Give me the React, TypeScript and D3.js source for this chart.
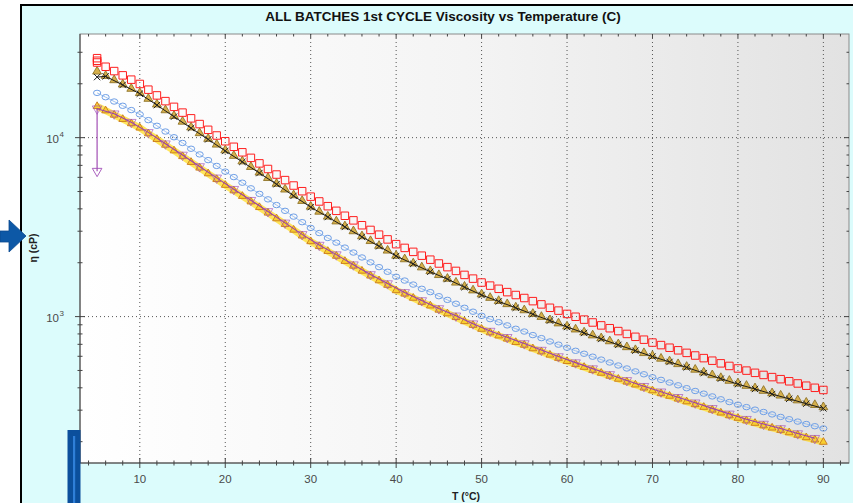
import React from "react";
import * as d3 from "d3";

// ---------- data ----------
const temps = [
  5, 6, 7, 8, 9, 10, 11, 12, 13, 14, 15, 16, 17, 18, 19, 20, 21, 22, 23, 24,
  25, 26, 27, 28, 29, 30, 31, 32, 33, 34, 35, 36, 37, 38, 39, 40, 41, 42, 43, 44,
  45, 46, 47, 48, 49, 50, 51, 52, 53, 54, 55, 56, 57, 58, 59, 60, 61, 62, 63, 64,
  65, 66, 67, 68, 69, 70, 71, 72, 73, 74, 75, 76, 77, 78, 79, 80, 81, 82, 83, 84,
  85, 86, 87, 88, 89, 90,
];

const redStartT = [5, 5];
const redStart = [27800, 26900];
const red = [
  26300, 24900, 23550, 22290, 21090, 19950, 18540, 17220, 16000, 14860,
  13800, 12820, 11910, 11060, 10280, 9550, 8890, 8280, 7710, 7180,
  6680, 6220, 5790, 5400, 5020, 4680, 4400, 4140, 3900, 3660,
  3450, 3240, 3050, 2870, 2700, 2540, 2420, 2300, 2190, 2080,
  1980, 1890, 1800, 1710, 1630, 1550, 1490, 1430, 1370, 1320,
  1270, 1220, 1170, 1120, 1080, 1035, 998, 962, 927, 893,
  861, 830, 800, 771, 743, 716, 693, 670, 648, 627,
  606, 586, 567, 548, 530, 513, 499, 485, 472, 459,
  447, 435, 423, 411, 400, 389,
];

const olive = [
  23720, 22440, 21230, 20090, 19010, 17990, 16710, 15530, 14420, 13400,
  12450, 11560, 10740, 9980, 9270, 8610, 8020, 7470, 6950, 6470,
  6030, 5600, 5200, 4830, 4490, 4170, 3910, 3670, 3450, 3240,
  3040, 2850, 2680, 2520, 2370, 2220, 2120, 2010, 1910, 1820,
  1730, 1650, 1570, 1490, 1420, 1350, 1290, 1240, 1190, 1140,
  1100, 1050, 1010, 968, 929, 893, 859, 827, 796, 767,
  738, 710, 684, 659, 634, 611, 590, 570, 550, 531,
  512, 494, 477, 460, 444, 429, 416, 403, 390, 378,
  367, 356, 345, 335, 325, 316,
];

const blackT = [
  5, 6, 8, 10, 12, 14, 16, 18, 20, 22, 24, 26, 28, 30, 32, 34, 36, 38, 40, 42, 44,
  46, 48, 50, 52, 54, 56, 58, 60, 62, 64, 66, 68, 70, 72, 74, 76, 78, 80, 82, 84,
  86, 88, 90,
];
const black = [
  21800, 22000, 19700, 17600, 15200, 13100, 11300, 9780, 8430, 7320, 6340, 5490,
  4730, 4090, 3600, 3170, 2790, 2470, 2180, 1970, 1780, 1620, 1460, 1320, 1215,
  1120, 1030, 950, 875, 810, 750, 695, 645, 598, 558, 520, 483, 450, 419, 394,
  369, 347, 326, 307,
];

const blue = [
  17790, 16830, 15920, 15070, 14260, 13490, 12530, 11650, 10820, 10050,
  9340, 8670, 8060, 7490, 6950, 6460, 6020, 5600, 5210, 4850,
  4520, 4200, 3900, 3620, 3370, 3130, 2930, 2750, 2590, 2430,
  2280, 2140, 2010, 1890, 1780, 1670, 1590, 1510, 1430, 1370,
  1300, 1240, 1180, 1120, 1065, 1010, 968, 930, 893, 855,
  825, 788, 758, 726, 697, 670, 644, 620, 597, 575,
  554, 533, 513, 494, 476, 458, 443, 428, 413, 398,
  384, 371, 358, 345, 333, 322, 312, 302, 293, 284,
  275, 267, 259, 251, 244, 237,
];

const orange = [
  14970, 14160, 13400, 12680, 12000, 11350, 10540, 9800, 9100, 8460,
  7860, 7290, 6780, 6300, 5850, 5430, 5060, 4710, 4390, 4080,
  3800, 3530, 3280, 3050, 2830, 2630, 2470, 2320, 2180, 2040,
  1920, 1800, 1690, 1590, 1500, 1400, 1340, 1270, 1205, 1150,
  1090, 1040, 991, 940, 896, 852, 814, 782, 751, 719,
  694, 663, 637, 611, 586, 563, 542, 522, 502, 484,
  466, 448, 432, 416, 400, 386, 372, 360, 347, 335,
  323, 312, 301, 290, 280, 271, 262, 254, 246, 239,
  232, 225, 218, 211, 205, 199,
];

const purpleT = [
  5, 5, 7, 9, 11, 13, 15, 17, 19, 21, 23, 25, 27, 29, 31, 33, 35, 37, 39, 41, 43,
  45, 47, 49, 51, 53, 55, 57, 59, 61, 63, 65, 67, 69, 71, 73, 75, 77, 79, 81, 83,
  85, 87, 89,
];
const purple = [
  6500, 14500, 13600, 12200, 10700, 9250, 8000, 6900, 5960, 5150, 4470, 3870,
  3340, 2880, 2510, 2220, 1950, 1720, 1530, 1365, 1230, 1110, 1010, 913, 830,
  766, 707, 650, 598, 553, 512, 475, 440, 408, 380, 354, 330, 307, 286, 267,
  251, 237, 222, 209,
];

const xMajor = [10, 20, 30, 40, 50, 60, 70, 80, 90];
const xMinor = [4, 6, 8, 12, 14, 16, 18, 22, 24, 26, 28, 32, 34, 36, 38, 42, 44, 46, 48,
  52, 54, 56, 58, 62, 64, 66, 68, 72, 74, 76, 78, 82, 84, 86, 88, 92];
const yMajor = [1000, 10000];
const yMajorExp = ["3", "4"];
const yMinor = [200, 300, 400, 500, 600, 700, 800, 900,
  2000, 3000, 4000, 5000, 6000, 7000, 8000, 9000, 20000, 30000];

const TITLE = "ALL BATCHES 1st CYCLE Viscosity vs Temperature (C)";
const XLABEL = "T (°C)";
const YLABEL = "η (cP)";

type P = { t: number; v: number };
const zip = (ts: number[], vs: number[]): P[] => vs.map((v, i) => ({ t: ts[i], v }));

export default function App() {
  const L = 80, R = 849, T = 34, B = 463;
  const x = d3.scaleLinear().domain([3, 93]).range([L, R]);
  const y = d3.scaleLog().domain([152, 37950]).range([B, T]);

  const redPts = [...zip(redStartT, redStart), ...zip(temps, red)];
  const olivePts = zip(temps, olive);
  const blackPts = zip(blackT, black);
  const bluePts = zip(temps, blue);
  const orangePts = zip(temps, orange);
  const purplePts = zip(purpleT, purple);

  const line = d3
    .line<P>()
    .x((d) => x(d.t))
    .y((d) => y(d.v));

  const sq = d3.symbol().type(d3.symbolSquare).size(56)()!;
  const tri = d3.symbol().type(d3.symbolTriangle).size(34)()!;
  const triSmall = d3.symbol().type(d3.symbolTriangle).size(26)()!;
  const xs = d3.symbol().type(d3.symbolX).size(28)()!;
  const triDown = d3.symbol().type(d3.symbolTriangle).size(40)()!;

  const font = "'Liberation Sans', Arial, sans-serif";

  return (
    <svg
      width={853}
      height={503}
      style={{ position: "absolute", left: 0, top: 0 }}
      fontFamily={font}
    >
      <defs>
        <linearGradient id="plotbg" x1="0" x2="1" y1="0" y2="0">
          <stop offset="0" stopColor="#ffffff" />
          <stop offset="0.5" stopColor="#f4f4f4" />
          <stop offset="1" stopColor="#e2e2e2" />
        </linearGradient>
        <clipPath id="clip">
          <rect x={L} y={T} width={R - L} height={B - T} />
        </clipPath>
      </defs>

      <rect x={0} y={0} width={853} height={503} fill="#ffffff" />
      <rect x={21} y={5} width={850} height={510} fill="#dcfcfc" stroke="#000" strokeWidth={2} />

      {/* plot background */}
      <rect x={L} y={T} width={R - L} height={B - T} fill="url(#plotbg)" stroke="#8a8a8a" strokeWidth={1} />

      {/* grid */}
      <g stroke="#555" strokeWidth={1} strokeDasharray="1,3">
        {xMajor.map((t) => (
          <line key={"gx" + t} x1={x(t)} x2={x(t)} y1={T} y2={B} />
        ))}
        {yMajor.map((v) => (
          <line key={"gy" + v} x1={L} x2={R} y1={y(v)} y2={y(v)} />
        ))}
      </g>

      {/* series */}
      <g clipPath="url(#clip)">
        {/* lower group: yellow / orange / purple */}
        <path d={line(orangePts)!} fill="none" stroke="#ffe040" strokeWidth={7} strokeOpacity={0.85} />
        {orangePts.map((d, i) => (
          <path key={"o" + i} d={triSmall} transform={`translate(${x(d.t)},${y(d.v)})`}
            fill="#f8cf30" stroke="#c8781e" strokeWidth={0.9} />
        ))}
        <path d={line(purplePts)!} fill="none" stroke="#9a3fae" strokeWidth={1.1} />
        {purplePts.map((d, i) => (
          <path key={"p" + i} d={triDown} transform={`translate(${x(d.t)},${y(d.v)}) rotate(180)`}
            fill="none" stroke="#a24fb8" strokeWidth={0.9} opacity={i === 0 ? 1 : 0.75} />
        ))}

        {/* blue */}
        <path d={line(bluePts)!} fill="none" stroke="#9cc0f0" strokeWidth={1} />
        {bluePts.map((d, i) => (
          <ellipse key={"b" + i} cx={x(d.t)} cy={y(d.v)} rx={3.6} ry={2.7}
            fill="none" stroke="#6f9fe6" strokeWidth={1} />
        ))}

        {/* olive + black */}
        {olivePts.map((d, i) => (
          <path key={"ol" + i} d={tri} transform={`translate(${x(d.t)},${y(d.v) + 1})`}
            fill="#d6b04c" stroke="#8f7428" strokeWidth={0.9} />
        ))}
        <path d={line(blackPts)!} fill="none" stroke="#1a1a1a" strokeWidth={1} />
        {blackPts.map((d, i) => (
          <path key={"k" + i} d={xs} transform={`translate(${x(d.t)},${y(d.v)})`}
            fill="none" stroke="#222" strokeWidth={1} />
        ))}

        {/* red */}
        {redPts.map((d, i) => (
          <path key={"r" + i} d={sq} transform={`translate(${x(d.t)},${y(d.v)})`}
            fill="none" stroke="#ff1e1e" strokeWidth={1} />
        ))}
      </g>

      {/* axes lines */}
      <g stroke="#444" strokeWidth={1}>
        <line x1={L} x2={L} y1={T} y2={B} />
        <line x1={L} x2={R} y1={B} y2={B} />
        {xMajor.map((t) => (
          <line key={"xt" + t} x1={x(t)} x2={x(t)} y1={B - 5} y2={B + 5} />
        ))}
        {xMinor.map((t) => (
          <line key={"xm" + t} x1={x(t)} x2={x(t)} y1={B - 2.5} y2={B + 2.5} />
        ))}
        {xMajor.map((t) => (
          <line key={"xtt" + t} x1={x(t)} x2={x(t)} y1={T} y2={T + 4} />
        ))}
        {xMinor.map((t) => (
          <line key={"xmt" + t} x1={x(t)} x2={x(t)} y1={T} y2={T + 2.5} />
        ))}
        {yMajor.map((v) => (
          <line key={"yt" + v} x1={L - 5} x2={L + 5} y1={y(v)} y2={y(v)} />
        ))}
        {yMinor.map((v) => (
          <line key={"ym" + v} x1={L - 2.5} x2={L + 2.5} y1={y(v)} y2={y(v)} />
        ))}
        {yMajor.map((v) => (
          <line key={"ytr" + v} x1={R - 5} x2={R} y1={y(v)} y2={y(v)} />
        ))}
        {yMinor.map((v) => (
          <line key={"ymr" + v} x1={R - 2.5} x2={R} y1={y(v)} y2={y(v)} />
        ))}
      </g>

      {/* x tick labels */}
      <g fontSize={11.5} fill="#4a4a4a" textAnchor="middle">
        {xMajor.map((t) => (
          <text key={"xl" + t} x={x(t)} y={483}>
            {t}
          </text>
        ))}
      </g>

      {/* y tick labels */}
      <g fill="#4a4a4a">
        {yMajor.map((v, i) => (
          <g key={"yl" + v}>
            <text x={59} y={y(v) + 5} fontSize={11.5} textAnchor="end">
              10
            </text>
            <text x={59.5} y={y(v) - 1} fontSize={8}>
              {yMajorExp[i]}
            </text>
          </g>
        ))}
      </g>

      {/* titles */}
      <text x={443} y={21} textAnchor="middle" fontSize={13.5} fontWeight="bold" fill="#111">
        {TITLE}
      </text>
      <text x={466} y={500} textAnchor="middle" fontSize={10.5} fontWeight="bold" fill="#222">
        {XLABEL}
      </text>
      <text transform="translate(37,248) rotate(-90)" textAnchor="middle" fontSize={10.5}
        fontWeight="bold" fill="#222">
        {YLABEL}
      </text>

      {/* decorations */}
      <path d="M0,231 L9,231 L9,220 L26,236 L9,252 L9,242 L0,242 Z" fill="#0d58a6" stroke="#0a4a90" strokeWidth={0.8} />
      <rect x={67.5} y={430} width={13} height={80} fill="#0b4f9c" />
      <rect x={73} y={436} width={2.2} height={80} fill="#2f7fd8" />
    </svg>
  );
}
